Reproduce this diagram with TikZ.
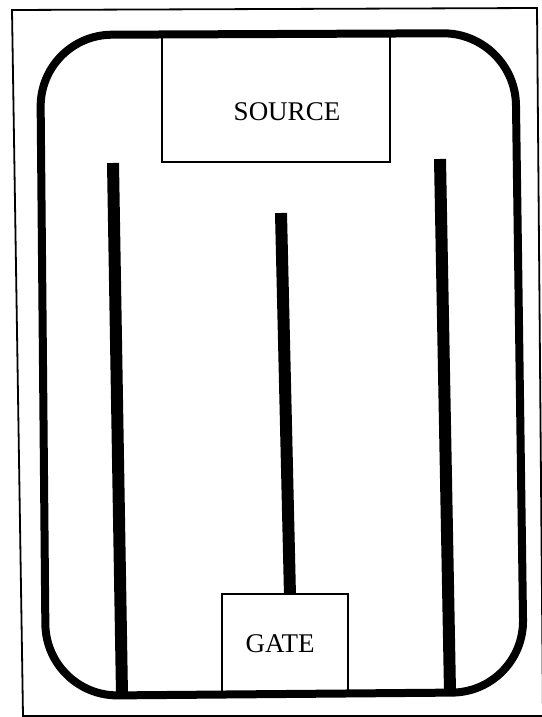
\documentclass[tikz,border=0pt]{standalone}
\usepackage{fontspec}
\setmainfont{Liberation Serif}
\begin{document}
\begin{tikzpicture}[x=1pt,y=-1pt,
  frame/.style={line width=1.8pt},
  casing/.style={line width=8pt,rounded corners=72pt,line join=round},
  box/.style={draw,line width=1.4pt,fill=white,inner sep=0pt},
  bar/.style={line width=12pt},
  lbl/.style={font=\fontsize{27}{27}\selectfont,inner sep=0pt}]
\useasboundingbox (0,0) rectangle (541,717);
% outer frame
\draw[frame] (12,10) -- (537,8) -- (543,716) -- (23,716) -- cycle;
% bars
\coordinate (l1) at (113,163); \coordinate (l2) at (122,695);
\coordinate (r1) at (440,159); \coordinate (r2) at (450,692);
\coordinate (m1) at (281,213); \coordinate (m2) at (290,596);
\draw[bar] (l1) -- (l2);
\draw[bar] (r1) -- (r2);
\draw[bar] (m1) -- (m2);
% boxes
\node[box,minimum width=228pt,minimum height=127pt] (src) at (276,98.5) {};
\node[box,minimum width=126pt,minimum height=100pt] (gate) at (285,644) {};
% casing
\draw[casing] (40,35) -- (515,33) -- (524,692) -- (46,696) -- cycle;
% labels
\node[lbl] (srct) at (287,112) {SOURCE};
\node[lbl] (gatet) at (280,644) {GATE};
\end{tikzpicture}
\end{document}
